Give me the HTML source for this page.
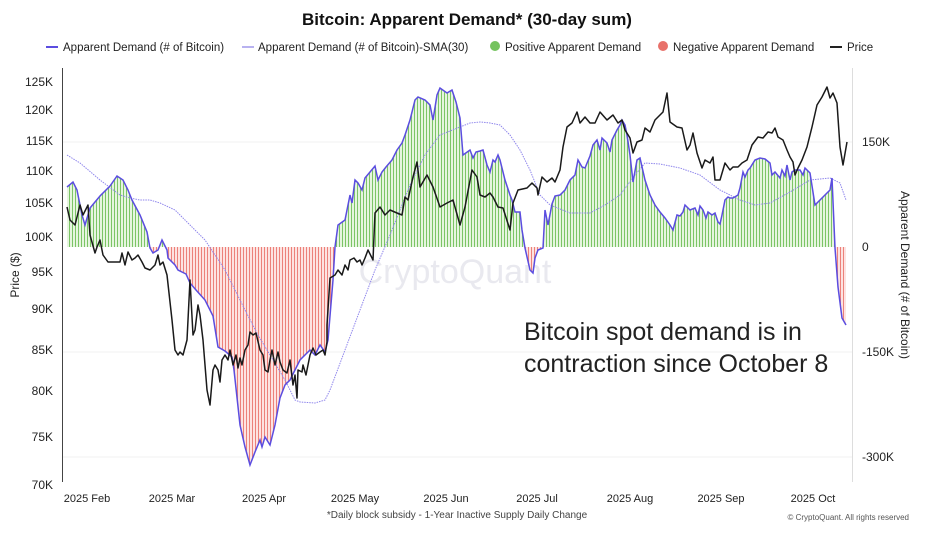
<!DOCTYPE html>
<html><head><meta charset="utf-8"><style>
body{margin:0;background:#fff;width:934px;height:538px;overflow:hidden;font-family:"Liberation Sans",sans-serif}
</style></head><body>
<svg width="934" height="538" viewBox="0 0 934 538" xmlns="http://www.w3.org/2000/svg" font-family="Liberation Sans, sans-serif">
<defs>
<pattern id="pg" patternUnits="userSpaceOnUse" width="3" height="10"><rect width="3" height="10" fill="#e6f5df"/><rect x="0" width="1" height="10" fill="#7cc566"/></pattern>
<pattern id="pr" patternUnits="userSpaceOnUse" width="3" height="10"><rect width="3" height="10" fill="#fde3e1"/><rect x="0" width="1" height="10" fill="#ec817a"/></pattern>
<clipPath id="ca"><path id="areaPath" d=""/></clipPath>
</defs>
<text x="467" y="25" text-anchor="middle" font-size="17" font-weight="bold" fill="#111">Bitcoin: Apparent Demand* (30-day sum)</text>
<g font-size="11.5" fill="#222">
<line x1="46" y1="47" x2="58" y2="47" stroke="#5b4de0" stroke-width="2"/><text x="63" y="51">Apparent Demand (# of Bitcoin)</text>
<line x1="242" y1="47" x2="254" y2="47" stroke="#b8b2f0" stroke-width="2"/><text x="258" y="51">Apparent Demand (# of Bitcoin)-SMA(30)</text>
<circle cx="495" cy="46" r="5" fill="#74c35e"/><text x="505" y="51">Positive Apparent Demand</text>
<circle cx="663" cy="46" r="5" fill="#e8716a"/><text x="673" y="51">Negative Apparent Demand</text>
<line x1="830" y1="47" x2="842" y2="47" stroke="#222" stroke-width="2"/><text x="847" y="51">Price</text>
</g>
<g stroke="#f0f0f0" stroke-width="1">
<line x1="63" y1="142" x2="852" y2="142"/><line x1="63" y1="352" x2="852" y2="352"/><line x1="63" y1="457" x2="852" y2="457"/>
</g>
<line x1="62.5" y1="68" x2="62.5" y2="482" stroke="#444" stroke-width="1"/>
<line x1="852.5" y1="68" x2="852.5" y2="482" stroke="#ddd" stroke-width="1"/>
<text x="455" y="283" text-anchor="middle" font-size="34" fill="#e9e9ef">CryptoQuant</text>
<g clip-path="url(#ca)">
<rect x="63" y="60" width="790" height="187" fill="url(#pg)"/>
<rect x="63" y="247" width="790" height="240" fill="url(#pr)"/>
</g>
<polyline id="sma" fill="none" stroke="#8f86ec" stroke-width="1" stroke-dasharray="1.5,1" points="67,155 80,163 100,180 120,195 130,198 140,200 150,200 160,203 175,210 190,225 205,240 215,255 225,270 235,290 245,310 258,335 270,355 285,380 295,400 300,402 315,403 325,400 330,390 345,350 360,310 375,270 390,235 410,185 425,155 440,135 460,127 470,123 480,122 490,123 500,125 510,135 520,150 530,170 540,195 550,205 570,213 590,213 605,205 620,195 635,175 645,163 660,164 680,168 700,175 720,190 740,200 755,205 770,203 790,192 810,180 830,178 840,183 846,200"/>
<polyline id="dem" fill="none" stroke="#5b4de0" stroke-width="1.5" points=""/>
<polyline fill="none" stroke="#1a1a1a" stroke-width="1.5" stroke-linejoin="round" points="67,207 70,220 75,225 80,205 83,215 88,205 90,235 95,253 97,247 100,240 103,255 108,262 115,262 120,262 122,253 125,265 128,252 132,260 135,258 138,255 142,262 145,268 150,270 155,265 158,255 160,265 163,262 167,275 172,320 175,350 178,355 180,352 183,355 187,340 190,280 193,335 195,330 198,305 200,315 203,340 207,390 210,405 213,370 215,365 218,370 220,382 222,360 225,355 228,360 230,350 233,365 236,355 238,368 240,358 242,365 245,350 248,345 250,332 253,335 256,333 260,350 263,355 265,370 268,372 270,360 272,350 275,365 278,352 280,362 283,370 287,373 290,360 293,385 295,375 297,398 298,370 302,372 303,365 306,375 310,355 313,348 316,355 320,352 323,350 325,355 327,342 327,325 330,278 335,275 338,270 342,275 345,265 348,270 350,260 354,258 357,262 360,260 362,265 365,258 368,250 373,260 375,213 380,207 385,215 390,210 397,213 402,215 405,197 408,200 413,177 417,162 420,187 427,175 433,187 440,207 447,203 453,200 460,225 465,207 472,170 477,177 480,195 485,197 490,193 493,197 498,207 503,208 510,230 513,203 518,190 527,188 532,183 537,188 538,195 542,177 547,182 552,178 555,182 560,170 563,147 567,127 572,123 577,112 580,123 585,117 590,123 595,123 600,112 607,120 613,115 618,123 622,120 625,130 630,138 633,153 637,142 642,140 645,128 650,132 655,120 658,117 663,112 667,93 670,122 677,127 682,128 687,150 690,145 693,133 697,153 702,168 705,160 710,163 713,157 715,180 720,180 725,163 730,170 733,167 738,167 742,163 747,160 752,145 758,137 763,138 768,132 772,133 775,128 778,137 783,140 787,150 790,157 793,162 795,175 798,168 802,160 807,147 812,127 817,105 822,97 827,87 830,98 833,93 837,103 840,147 843,165 847,142"/>
<g font-size="12" fill="#222" text-anchor="end">
<text x="53" y="86">125K</text><text x="53" y="114">120K</text><text x="53" y="145">115K</text><text x="53" y="175">110K</text><text x="53" y="207">105K</text><text x="53" y="241">100K</text><text x="53" y="276">95K</text><text x="53" y="313">90K</text><text x="53" y="354">85K</text><text x="53" y="395">80K</text><text x="53" y="441">75K</text><text x="53" y="489">70K</text>
</g>
<g font-size="12" fill="#222">
<text x="862" y="146">150K</text><text x="862" y="251">0</text><text x="862" y="356">-150K</text><text x="862" y="461">-300K</text>
</g>
<text transform="translate(19,275) rotate(-90)" text-anchor="middle" font-size="12" fill="#222">Price ($)</text>
<text transform="translate(901,275) rotate(90)" text-anchor="middle" font-size="12" fill="#222">Apparent Demand (# of Bitcoin)</text>
<g font-size="11" fill="#222" text-anchor="middle">
<text x="87" y="502">2025 Feb</text><text x="172" y="502">2025 Mar</text><text x="264" y="502">2025 Apr</text><text x="355" y="502">2025 May</text><text x="446" y="502">2025 Jun</text><text x="537" y="502">2025 Jul</text><text x="630" y="502">2025 Aug</text><text x="721" y="502">2025 Sep</text><text x="813" y="502">2025 Oct</text>
</g>
<text x="457" y="518" text-anchor="middle" font-size="10" fill="#444">*Daily block subsidy - 1-Year Inactive Supply Daily Change</text>
<text x="909" y="520" text-anchor="end" font-size="8" fill="#555">© CryptoQuant. All rights reserved</text>
<text x="524" y="340" font-size="25" fill="#222">Bitcoin spot demand is in</text>
<text x="524" y="372" font-size="25" fill="#222">contraction since October 8</text>
</svg>
<script>
var p="67,187 73,182 77,190 82,215 85,225 90,208 100,196 110,186 117,176 123,180 128,190 132,200 140,215 147,232 150,248 153,253 158,250 162,240 167,250 168,258 175,265 178,270 186,274 190,283 196,290 205,300 213,316 218,347 225,351 232,357 234,370 240,425 245,447 250,465 255,452 260,440 262,447 265,437 270,445 275,425 280,398 285,385 290,380 300,360 310,350 315,355 320,345 325,352 328,340 333,280 335,247 338,225 345,220 350,195 352,203 355,180 358,183 362,190 365,178 370,172 375,166 378,180 382,172 386,167 392,160 397,150 402,143 405,135 410,120 415,100 418,97 425,100 430,105 433,120 437,95 440,88 447,93 452,90 456,102 460,118 463,155 470,150 473,158 476,152 480,151 483,150 487,165 490,172 493,160 495,162 498,155 500,160 505,180 510,195 512,200 515,212 520,212 522,230 525,248 530,270 533,273 535,258 538,250 543,248 545,210 548,225 552,204 555,196 560,195 565,190 570,180 575,175 578,160 582,167 585,168 590,156 593,145 597,140 600,150 602,138 607,143 610,152 612,140 617,130 620,125 622,120 625,125 627,135 630,155 633,182 637,160 640,158 645,180 650,195 655,205 660,212 665,218 670,225 673,230 677,215 680,216 683,212 685,205 690,210 695,208 698,215 700,206 703,210 706,218 708,212 712,215 715,213 718,222 720,224 722,215 725,200 728,197 730,198 733,198 738,195 740,188 743,172 745,177 748,170 750,168 755,160 760,158 765,159 770,163 772,175 775,172 780,178 782,170 785,176 787,165 790,180 792,172 795,170 800,170 803,175 805,168 810,173 815,205 820,200 825,195 830,190 832,178 835,248 838,287 842,318 846,325";
document.getElementById('dem').setAttribute('points',p);
var pts=p.split(' ');
document.getElementById('areaPath').setAttribute('d','M67,247 L'+pts.join(' L')+' L846,247 Z');
</script>
</body></html>
